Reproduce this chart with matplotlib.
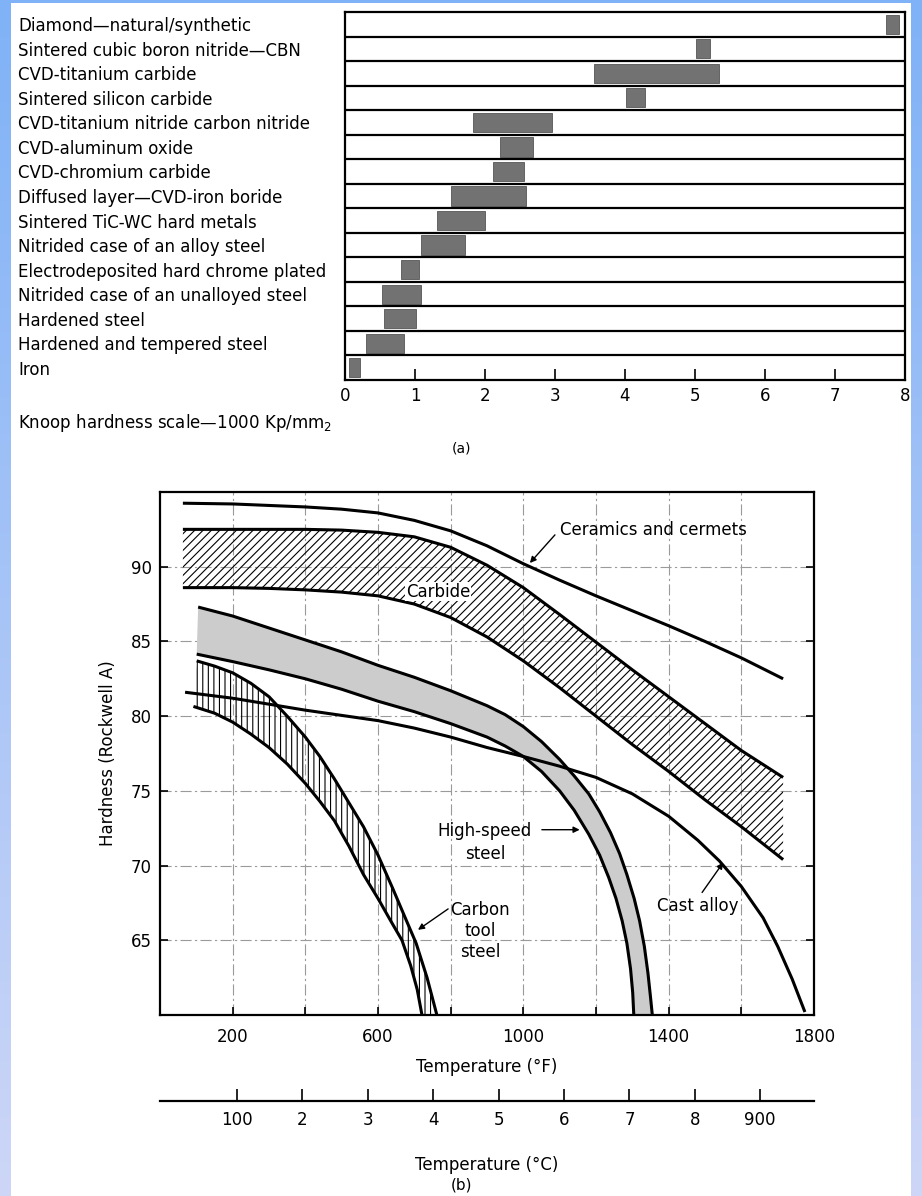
import numpy as np
import matplotlib
matplotlib.use('Agg')
import matplotlib.pyplot as plt
from matplotlib.colors import LinearSegmentedColormap

plt.rcParams['font.family'] = ['DejaVu Sans']
plt.rcParams['hatch.linewidth'] = 0.8

# ---- (a) Knoop hardness ranges, 1000 Kp/mm2 ----
materials = ['Diamond\u2014natural/synthetic',
             'Sintered cubic boron nitride\u2014CBN',
             'CVD-titanium carbide',
             'Sintered silicon carbide',
             'CVD-titanium nitride carbon nitride',
             'CVD-aluminum oxide',
             'CVD-chromium carbide',
             'Diffused layer\u2014CVD-iron boride',
             'Sintered TiC-WC hard metals',
             'Nitrided case of an alloy steel',
             'Electrodeposited hard chrome plated',
             'Nitrided case of an unalloyed steel',
             'Hardened steel',
             'Hardened and tempered steel',
             'Iron']
knoop_lo = [7.73, 5.02, 3.55, 4.02, 1.83, 2.21, 2.11, 1.51, 1.32, 1.09, 0.80, 0.53, 0.55, 0.30, 0.06]
knoop_hi = [7.92, 5.22, 5.34, 4.28, 2.96, 2.69, 2.56, 2.59, 2.00, 1.71, 1.06, 1.08, 1.02, 0.84, 0.22]
knoop_ticks = [0, 1, 2, 3, 4, 5, 6, 7, 8]

# ---- (b) hot hardness, temperature (deg F) vs hardness (Rockwell A) ----
ceramics_f = [63, 200, 300, 400, 500, 600, 700, 800, 900, 1000, 1100, 1200, 1300, 1400, 1500, 1600, 1715]
ceramics_h = [94.25, 94.2, 94.1, 94.0, 93.85, 93.6, 93.1, 92.4, 91.4, 90.2, 89.1, 88.05, 87.05, 86.05,
              85.0, 83.9, 82.5]

carbide_hi_f = [63, 200, 300, 400, 500, 600, 700, 800, 900, 1000, 1100, 1200, 1300, 1400, 1500, 1600, 1715]
carbide_hi_h = [92.5, 92.5, 92.5, 92.5, 92.45, 92.3, 92.0, 91.3, 90.1, 88.6, 86.8, 84.95, 83.1, 81.3,
                79.5, 77.7, 75.9]
carbide_lo_f = [63, 200, 300, 400, 500, 600, 700, 800, 900, 1000, 1100, 1200, 1300, 1400, 1500, 1600, 1715]
carbide_lo_h = [88.6, 88.6, 88.55, 88.45, 88.3, 88.05, 87.5, 86.6, 85.3, 83.7, 81.9, 80.0, 78.1, 76.3,
                74.4, 72.6, 70.4]

hss_hi_f = [105, 200, 300, 400, 500, 600, 700, 800, 900, 950, 1000, 1050, 1100, 1140, 1180, 1210,
            1240, 1265, 1285, 1305, 1320, 1333, 1343, 1350, 1355]
hss_hi_h = [87.3, 86.7, 85.9, 85.1, 84.3, 83.4, 82.6, 81.7, 80.7, 80.1, 79.3, 78.3, 77.1, 76.0, 74.8,
            73.6, 72.2, 70.8, 69.4, 67.8, 66.3, 64.6, 62.8, 61.2, 60.0]
hss_lo_f = [101, 200, 300, 400, 500, 600, 700, 800, 900, 950, 1000, 1050, 1100, 1140, 1180, 1210,
            1235, 1255, 1272, 1285, 1295, 1301, 1304]
hss_lo_h = [84.15, 83.65, 83.1, 82.5, 81.8, 81.0, 80.3, 79.5, 78.6, 78.0, 77.3, 76.3, 75.0, 73.7, 72.1,
            70.7, 69.2, 67.8, 66.3, 64.8, 63.1, 61.5, 60.0]

cast_f = [69, 200, 300, 400, 500, 600, 700, 800, 900, 1000, 1100, 1200, 1300, 1400, 1480, 1540, 1600,
          1660, 1700, 1740, 1775]
cast_h = [81.6, 81.2, 80.8, 80.4, 80.05, 79.7, 79.2, 78.6, 77.9, 77.3, 76.65, 75.9, 74.8, 73.3, 71.7,
          70.3, 68.6, 66.5, 64.6, 62.4, 60.2]

carbon_hi_f = [101, 150, 200, 250, 300, 350, 400, 440, 480, 520, 560, 600, 640, 675, 705, 735, 748, 762]
carbon_hi_h = [83.7, 83.35, 82.9, 82.2, 81.3, 80.0, 78.6, 77.3, 75.8, 74.2, 72.6, 70.7, 68.5, 66.5,
               64.8, 62.5, 61.3, 60.0]
carbon_lo_f = [92, 150, 200, 250, 300, 350, 400, 440, 480, 520, 560, 600, 635, 666, 690, 708, 721]
carbon_lo_h = [80.65, 80.2, 79.6, 78.8, 77.9, 76.8, 75.5, 74.3, 73.0, 71.3, 69.4, 67.8, 66.3, 65.0,
               63.3, 61.7, 60.0]

f_ticks = [200, 600, 1000, 1400, 1800]
f_minor = [400, 800, 1200, 1600]
h_ticks = [65, 70, 75, 80, 85, 90]
c_ticks = [100, 200, 300, 400, 500, 600, 700, 800, 900]
c_labels = ['100', '2', '3', '4', '5', '6', '7', '8', '900']

W, H = 922, 1196
fig = plt.figure(figsize=(W / 100, H / 100), dpi=100)

# blue page frame (left, right, top)
edge_cmap = LinearSegmentedColormap.from_list('edge', ['#7fb2f6', '#cdd6f6'])
for rect in ([0, 0, 10 / W, 1], [911 / W, 0, 11 / W, 1]):
    edge = fig.add_axes(rect)
    edge.imshow(np.linspace(0, 1, 256).reshape(-1, 1), aspect='auto', extent=[0, 1, 0, 1], cmap=edge_cmap)
    edge.axis('off')
top_edge = fig.add_axes([0, 1 - 3 / H, 1, 3 / H])
top_edge.set_facecolor('#7fb2f6')
top_edge.set_xticks([])
top_edge.set_yticks([])
for s in top_edge.spines.values():
    s.set_visible(False)

# ---------------- (a) ----------------
axa = fig.add_axes([345 / W, 1 - 380 / H, 560 / W, 368 / H])
rows = np.arange(len(materials))
axa.barh(rows, np.array(knoop_hi) - np.array(knoop_lo), left=knoop_lo, height=0.78,
         color='#727272', edgecolor='#555555', linewidth=0.6)
for k in range(len(materials) - 1):
    axa.axhline(k + 0.5, color='black', lw=1.6)
axa.set_xlim(0, 8)
axa.set_ylim(len(materials) - 0.5, -0.5)
axa.set_yticks(rows, materials)
for lab in axa.get_yticklabels():
    lab.set_ha('left')
axa.tick_params(axis='y', length=0, pad=235.4, labelsize=12)
axa.set_xticks(knoop_ticks)
axa.tick_params(axis='x', direction='in', length=8, width=1.2, labelsize=12, pad=5)
for s in axa.spines.values():
    s.set_linewidth(1.6)
fig.text(18 / W, 1 - 423 / H, 'Knoop hardness scale\u20141000 Kp/mm$_2$', fontsize=12, va='center')
fig.text(461 / W, 1 - 449 / H, '(a)', fontsize=10, ha='center', va='center')

# ---------------- (b) ----------------
axb = fig.add_axes([160 / W, 1 - 1015 / H, 654 / W, 523 / H])
axb.set_xlim(0, 1800)
axb.set_ylim(60, 95)
axb.set_axisbelow(True)

lw = 2.2
axb.fill(carbide_hi_f + carbide_lo_f[::-1], carbide_hi_h + carbide_lo_h[::-1],
         facecolor='none', edgecolor='black', hatch='////', linewidth=0)
axb.fill(hss_hi_f + hss_lo_f[::-1], hss_hi_h + hss_lo_h[::-1],
         facecolor='#cccccc', edgecolor='none', linewidth=0)
axb.fill(carbon_hi_f + carbon_lo_f[::-1], carbon_hi_h + carbon_lo_h[::-1],
         facecolor='none', edgecolor='black', hatch='|||', linewidth=0)

for xs, ys in [(ceramics_f, ceramics_h), (carbide_hi_f, carbide_hi_h), (carbide_lo_f, carbide_lo_h),
               (hss_hi_f, hss_hi_h), (hss_lo_f, hss_lo_h), (cast_f, cast_h),
               (carbon_hi_f, carbon_hi_h), (carbon_lo_f, carbon_lo_h)]:
    axb.plot(xs, ys, color='black', lw=lw, solid_capstyle='butt', solid_joinstyle='round')

axb.set_xticks(f_ticks)
axb.set_xticks(f_minor, minor=True)
axb.set_yticks(h_ticks)
axb.grid(which='both', color='#9a9a9a', lw=0.8, linestyle=(0, (10, 3, 2, 3)))
axb.tick_params(which='both', direction='in', length=6, width=1.2, labelsize=12,
                left=True, right=True, top=False, bottom=True)
axb.tick_params(axis='x', pad=9)
axb.tick_params(axis='y', pad=6)
for s in axb.spines.values():
    s.set_linewidth(1.6)
axb.set_xlabel('Temperature (\u00b0F)', fontsize=12, labelpad=9)
axb.set_ylabel('Hardness (Rockwell A)', fontsize=12, labelpad=10)

arrow = dict(arrowstyle='-|>', color='black', lw=1.0, mutation_scale=9, shrinkA=0, shrinkB=0)
axb.text(1101, 92.46, 'Ceramics and cermets', fontsize=12, ha='left', va='center')
axb.annotate('', xy=(1018, 90.25), xytext=(1087, 92.13), arrowprops=arrow)
axb.text(765, 88.34, 'Carbide', fontsize=12, ha='center', va='center',
         bbox=dict(facecolor='white', edgecolor='none', pad=0.5))
axb.text(894, 71.54, 'High-speed\nsteel', fontsize=12, ha='center', va='center', linespacing=1.3)
axb.annotate('', xy=(1155, 72.4), xytext=(1051, 72.4), arrowprops=arrow)
axb.text(881, 65.61, 'Carbon\ntool\nsteel', fontsize=12, ha='center', va='center', linespacing=1.2)
axb.annotate('', xy=(710, 65.7), xytext=(793, 67.1), arrowprops=arrow)
axb.text(1481, 67.28, 'Cast alloy', fontsize=12, ha='center', va='center')
axb.annotate('', xy=(1550, 70.2), xytext=(1492, 68.2), arrowprops=arrow)


def f2c(f):
    return (np.asarray(f) - 32) * 5 / 9


def c2f(c):
    return np.asarray(c) * 9 / 5 + 32


secax = axb.secondary_xaxis(-(1101 - 1015) / 523, functions=(f2c, c2f))
secax.set_xticks(c_ticks, c_labels)
secax.tick_params(direction='in', length=9, width=1.2, labelsize=12, pad=7)
secax.spines['bottom'].set_linewidth(1.6)
secax.set_xlabel('Temperature (\u00b0C)', fontsize=12, labelpad=20)

fig.text(461 / W, 1 - 1185 / H, '(b)', fontsize=11, ha='center', va='center')

fig.savefig('out.png', dpi=100)
